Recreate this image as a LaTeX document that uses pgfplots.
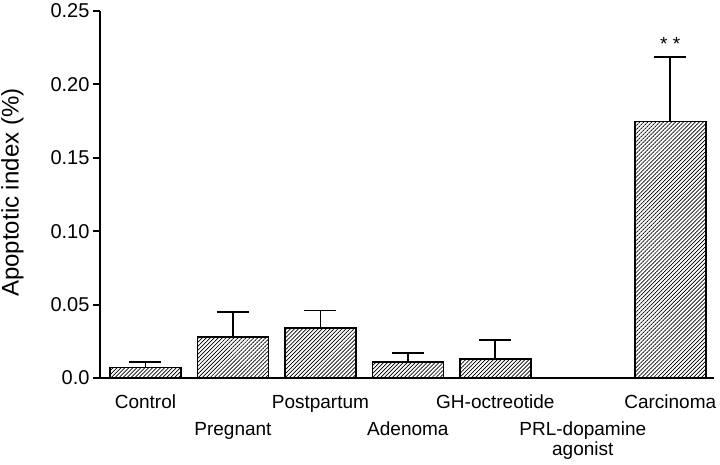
\documentclass[border=0pt]{standalone}
\usepackage{fontspec}
\setmainfont{Liberation Sans}
\usepackage{pgfplots}
\pgfplotsset{compat=1.18}
\usetikzlibrary{patterns.meta}
\newcommand{\rowtwo}[1]{\raisebox{-27bp}{\begin{tabular}[t]{@{}c@{}}#1\end{tabular}}}
\begin{document}
\begin{tikzpicture}
\begin{axis}[
  scale only axis, width=614bp, height=367bp,
  xmin=-0.52, xmax=6.5, ymin=0, ymax=0.25,
  axis x line=bottom, axis y line=left,
  axis line style={-, line width=1.8bp, black},
  ytick={0,0.05,0.10,0.15,0.20,0.25},
  yticklabels={0.0,0.05,0.10,0.15,0.20,0.25},
  xtick={0,1,2,3,4,5,6},
  xticklabels={Control,\rowtwo{Pregnant},Postpartum,\rowtwo{Adenoma},GH-octreotide,\rowtwo{PRL-dopamine\\agonist},Carcinoma},
  x tick style={draw=none},
  y tick style={line width=1.8bp, black},
  tick align=outside, major tick length=7bp,
  xticklabel style={font=\fontsize{19bp}{20bp}\selectfont, anchor=base, yshift=-23bp},
  yticklabel style={font=\fontsize{20bp}{22bp}\selectfont},
  ylabel={Apoptotic index (\%)},
  ylabel style={font=\fontsize{24bp}{27bp}\selectfont, inner sep=0pt, at={(axis description cs:-0.1612,0.505)}, anchor=north},
  clip=false,
]
\addplot[ybar, bar width=71bp, draw=black, line width=1.6bp,
  pattern={Lines[angle=45,distance=2.8bp,line width=0.7bp]},
  error bars/.cd, y dir=plus, y explicit,
  error bar style={line width=1.8bp, black},
  error mark options={line width=1.8bp, mark size=16bp, black, rotate=90}]
  table[x=x, y=y, y error=e] {
x y e
0 0.0072 0.0038
1 0.0281 0.0169
2 0.0340 0.0120
3 0.0109 0.0063
4 0.0131 0.0129
6 0.1746 0.0442
};
\node[anchor=base, yshift=6bp, font=\fontsize{19bp}{20bp}\selectfont] at (axis cs:6,0.2188) {* *};
\coordinate (bl) at (rel axis cs:0,0);
\end{axis}
\pgfresetboundingbox
\path (bl) ++(-100bp,-87bp) rectangle ++(720bp,465bp);
\end{tikzpicture}
\end{document}
